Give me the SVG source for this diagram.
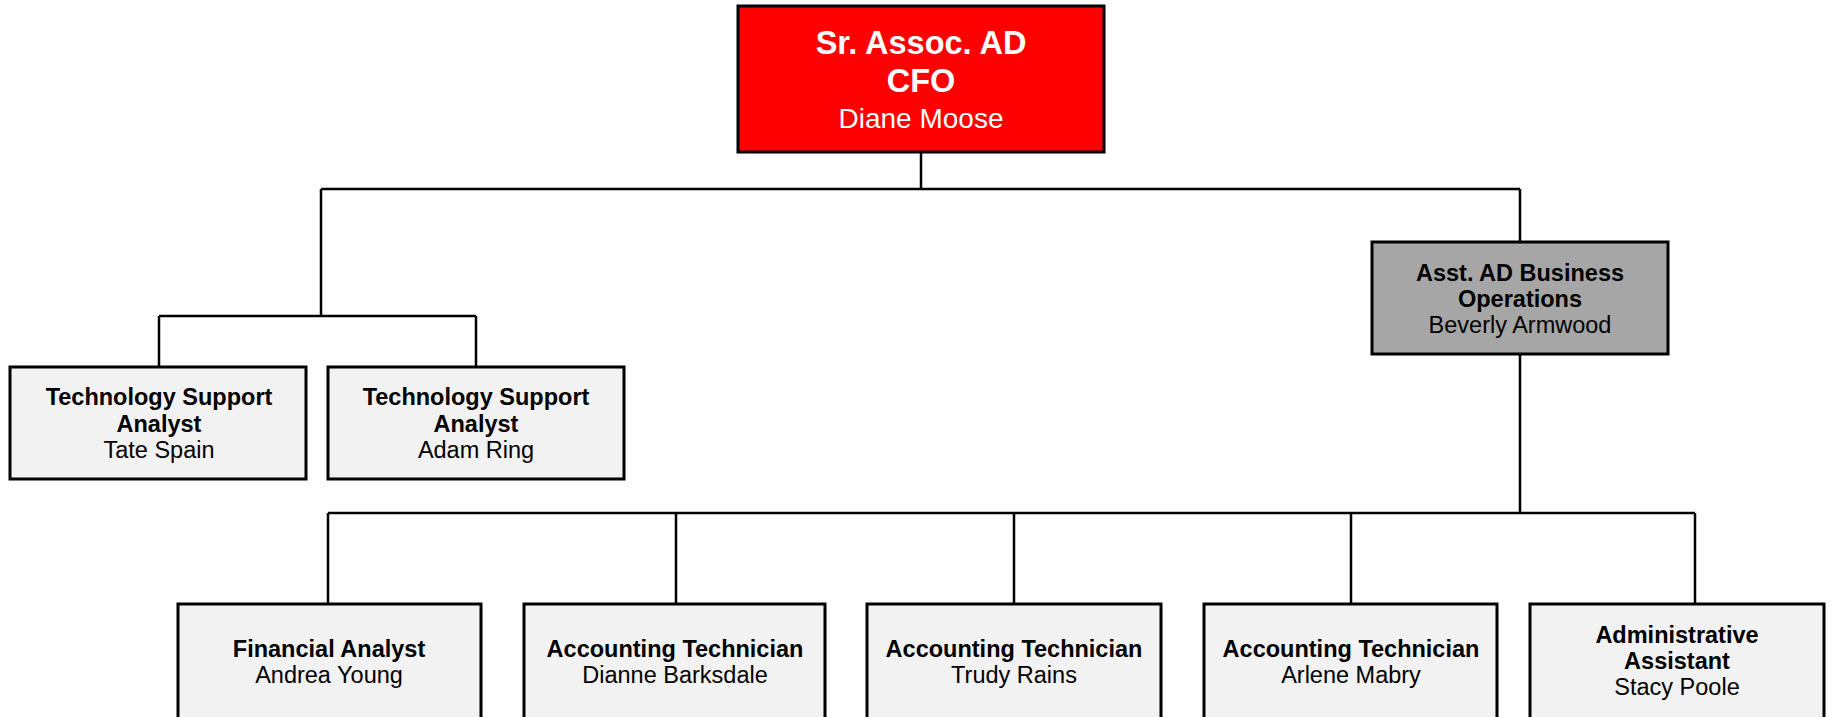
<svg xmlns="http://www.w3.org/2000/svg" width="1833" height="717" viewBox="0 0 1833 717">
  <style>
    .box { stroke: #000; stroke-width: 3; }
    .lead { fill: #ff0000; }
    .mgr { fill: #a6a6a6; }
    .staff { fill: #f2f2f2; }
    .t { font-family: "Liberation Sans", Arial, sans-serif; text-anchor: middle; fill: #000; }
    .b { font-weight: bold; font-size: 23.5px; }
    .r { font-size: 23.5px; }
    .tb { font-weight: bold; font-size: 32.5px; fill: #fff; }
    .tr { font-size: 28px; fill: #fff; }
    .wire { fill: none; stroke: #000; stroke-width: 2.5; }
  </style>

  <!-- connectors -->
  <g id="connectors" class="wire">
    <path d="M921 152 V189 M321 189 H1520 M321 189 V316 M159 316 H476 M159 316 V367 M476 316 V367"/>
    <path d="M1520 189 V242 M1520 354 V513 M328 513 H1695"/>
    <path d="M328 513 V604 M676 513 V604 M1014 513 V604 M1351 513 V604 M1695 513 V604"/>
  </g>

  <!-- top -->
  <g id="cfo">
    <rect class="box lead" x="738" y="6" width="366" height="146"/>
    <text class="t tb" x="921" y="54">Sr. Assoc. AD</text>
    <text class="t tb" x="921" y="92">CFO</text>
    <text class="t tr" x="921" y="128">Diane Moose</text>
  </g>

  <g id="asst-ad">
    <rect class="box mgr" x="1372" y="242" width="296" height="112"/>
    <text class="t b" x="1520" y="281">Asst. AD Business</text>
    <text class="t b" x="1520" y="307">Operations</text>
    <text class="t r" x="1520" y="333">Beverly Armwood</text>
  </g>

  <g id="tech-1">
    <rect class="box staff" x="10" y="367" width="296" height="112"/>
    <text class="t b" x="159" y="405">Technology Support</text>
    <text class="t b" x="159" y="431.5">Analyst</text>
    <text class="t r" x="159" y="458">Tate Spain</text>
  </g>

  <g id="tech-2">
    <rect class="box staff" x="328" y="367" width="296" height="112"/>
    <text class="t b" x="476" y="405">Technology Support</text>
    <text class="t b" x="476" y="431.5">Analyst</text>
    <text class="t r" x="476" y="458">Adam Ring</text>
  </g>

  <!-- bottom row -->
  <g id="financial-analyst">
    <rect class="box staff" x="178" y="604" width="303" height="116"/>
    <text class="t b" x="329" y="657">Financial Analyst</text>
    <text class="t r" x="329" y="683">Andrea Young</text>
  </g>

  <g id="acct-tech-1">
    <rect class="box staff" x="524" y="604" width="301" height="116"/>
    <text class="t b" x="675" y="657">Accounting Technician</text>
    <text class="t r" x="675" y="683">Dianne Barksdale</text>
  </g>

  <g id="acct-tech-2">
    <rect class="box staff" x="867" y="604" width="294" height="116"/>
    <text class="t b" x="1014" y="657">Accounting Technician</text>
    <text class="t r" x="1014" y="683">Trudy Rains</text>
  </g>

  <g id="acct-tech-3">
    <rect class="box staff" x="1204" y="604" width="293" height="116"/>
    <text class="t b" x="1351" y="657">Accounting Technician</text>
    <text class="t r" x="1351" y="683">Arlene Mabry</text>
  </g>

  <g id="admin-assistant">
    <rect class="box staff" x="1530" y="604" width="294" height="116"/>
    <text class="t b" x="1677" y="643">Administrative</text>
    <text class="t b" x="1677" y="669">Assistant</text>
    <text class="t r" x="1677" y="695">Stacy Poole</text>
  </g>
</svg>
